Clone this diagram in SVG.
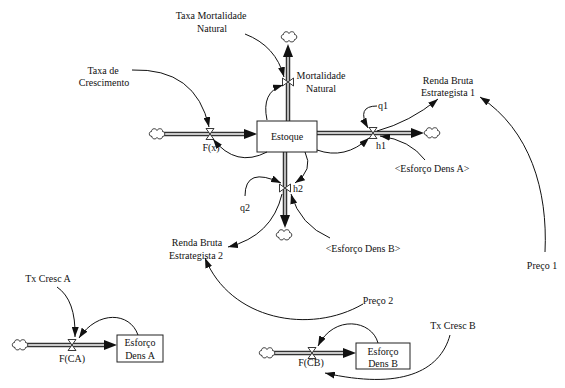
<svg xmlns="http://www.w3.org/2000/svg" xmlns:xlink="http://www.w3.org/1999/xlink" width="565" height="388" viewBox="0 0 565 388">
<style>
text{font-family:"Liberation Serif","Times New Roman",serif;font-size:10px;fill:#111;text-anchor:middle}
.po{fill:none;stroke:#333;stroke-width:4.5}
.pi{fill:none;stroke:#c8c8c8;stroke-width:1.8}
.fa{fill:#111}
.v{fill:#fff;stroke:#222;stroke-width:0.9}
.cl{fill:#fff;stroke:#222;stroke-width:0.9}
.bx{fill:#fff;stroke:#222;stroke-width:1}
.c{fill:none;stroke:#111;stroke-width:1;marker-end:url(#ah)}
</style>
<defs>
<marker id="ah" markerWidth="10" markerHeight="7" refX="10" refY="3.5" orient="auto" markerUnits="userSpaceOnUse" viewBox="0 0 10 7"><path d="M0,0 L10,3.5 L0,7 Z" fill="#111"/></marker>
<path id="vh" class="v" d="M-4,-5.5 L4,-5.5 L-4,5.5 L4,5.5 Z"/>
<path id="cld" class="cl" d="M-5,2.5 C-8.5,2.5 -8.5,-2.5 -5.5,-2.5 C-5.5,-6 -1,-6 0,-3.5 C1.5,-6.5 6,-5.5 5.5,-2.5 C8.5,-2.5 8.5,2.5 5.5,2.5 C5.5,5.5 1,5.5 0,3.5 C-1,5.5 -5,5.5 -5,2.5 Z"/>
</defs>

<g id="pipes">
<path class="po" d="M164,134 H246"/><path class="pi" d="M164,134 H246"/>
<polygon class="fa" points="257,134 244,129 244,139"/>
<path class="po" d="M317,133 H414"/><path class="pi" d="M317,133 H414"/>
<polygon class="fa" points="424,133 411,128 411,138"/>
<path class="po" d="M288,121 V55"/><path class="pi" d="M288,121 V55"/>
<polygon class="fa" points="288,44 283,57 293,57"/>
<path class="po" d="M285,152 V217"/><path class="pi" d="M285,152 V217"/>
<polygon class="fa" points="285,228 280,215 290,215"/>
<path class="po" d="M27,345 H106"/><path class="pi" d="M27,345 H106"/>
<polygon class="fa" points="117,345 104,340 104,350"/>
<path class="po" d="M274,353 H345"/><path class="pi" d="M274,353 H345"/>
<polygon class="fa" points="356,353 343,348 343,358"/>
</g>

<g id="clouds">
<use xlink:href="#cld" href="#cld" transform="translate(157,134)"/>
<use xlink:href="#cld" href="#cld" transform="translate(432,133)"/>
<use xlink:href="#cld" href="#cld" transform="translate(289,37)"/>
<use xlink:href="#cld" href="#cld" transform="translate(284,235)"/>
<use xlink:href="#cld" href="#cld" transform="translate(20,345)"/>
<use xlink:href="#cld" href="#cld" transform="translate(267,353)"/>
</g>

<g id="estoque">
<rect class="bx" x="257" y="121" width="60" height="31"/>
<text x="287" y="140">Estoque</text>
</g>

<g id="fx">
<use xlink:href="#vh" href="#vh" transform="translate(210,134)"/>
<text x="211" y="151">F(x)</text>
</g>

<g id="mortalidade">
<use xlink:href="#vh" href="#vh" transform="translate(288,82) rotate(90)"/>
<text x="321" y="79">Mortalidade</text>
<text x="321" y="92">Natural</text>
</g>

<g id="h1">
<use xlink:href="#vh" href="#vh" transform="translate(373,133)"/>
<text x="381" y="149">h1</text>
</g>

<g id="h2">
<use xlink:href="#vh" href="#vh" transform="translate(285,188) rotate(90)"/>
<text x="298" y="192">h2</text>
</g>

<g id="taxa-mortalidade"><text x="211" y="19">Taxa Mortalidade</text><text x="212" y="32">Natural</text></g>
<g id="taxa-crescimento"><text x="103" y="74">Taxa de</text><text x="104" y="86">Crescimento</text></g>
<g id="renda1"><text x="448" y="84">Renda Bruta</text><text x="448" y="96">Estrategista 1</text></g>
<g id="q1"><text x="383" y="109">q1</text></g>
<g id="esforco-a-shadow"><text x="432" y="172">&lt;Esforço Dens A&gt;</text></g>
<g id="q2"><text x="245" y="211">q2</text></g>
<g id="renda2"><text x="197" y="246">Renda Bruta</text><text x="196" y="259">Estrategista 2</text></g>
<g id="esforco-b-shadow"><text x="363" y="252">&lt;Esforço Dens B&gt;</text></g>
<g id="preco1"><text x="542" y="269">Preço 1</text></g>
<g id="preco2"><text x="378" y="304">Preço 2</text></g>
<g id="tx-cresc-a"><text x="48" y="282">Tx Cresc A</text></g>
<g id="tx-cresc-b"><text x="453" y="329">Tx Cresc B</text></g>

<g id="fca">
<use xlink:href="#vh" href="#vh" transform="translate(72,345)"/>
<text x="72" y="362">F(CA)</text>
</g>
<g id="esforco-a">
<rect class="bx" x="117" y="335" width="46" height="27"/>
<text x="140" y="346">Esforço</text>
<text x="140" y="359">Dens A</text>
</g>

<g id="fcb">
<use xlink:href="#vh" href="#vh" transform="translate(312,353)"/>
<text x="311" y="366">F(CB)</text>
</g>
<g id="esforco-b">
<rect class="bx" x="356" y="343" width="54" height="26"/>
<text x="383" y="355">Esforço</text>
<text x="383" y="367">Dens B</text>
</g>

<g id="connectors">
<path class="c" d="M245,34 Q276,46 284,77"/>
<path class="c" d="M267,120 Q261,92 283,85"/>
<path class="c" d="M132,70 Q196,68 209,127"/>
<path class="c" d="M267,152 Q236,168 213,139"/>
<path class="c" d="M317,150 Q345,160 369,138"/>
<path class="c" d="M377,106 Q356,106 368,128"/>
<path class="c" d="M377,131 Q410,122 438,99"/>
<path class="c" d="M425,160 Q410,140 380,136"/>
<path class="c" d="M545,252 C548,190 530,130 480,97"/>
<path class="c" d="M305,152 Q314,170 295,183"/>
<path class="c" d="M245,196 Q245,166 281,183"/>
<path class="c" d="M282,194 Q272,236 228,247"/>
<path class="c" d="M330,238 Q300,225 291,194"/>
<path class="c" d="M363,304 C310,335 230,320 205,258"/>
<path class="c" d="M57,287 Q76,300 75,337"/>
<path class="c" d="M138,335 C130,312 98,310 79,338"/>
<path class="c" d="M378,343 C372,320 334,314 318,346"/>
<path class="c" d="M450,335 C440,372 400,390 325,373"/>
</g>
</svg>
